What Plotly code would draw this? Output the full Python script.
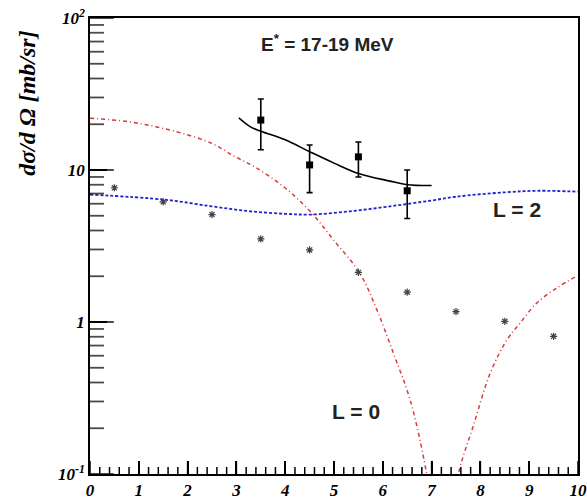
import plotly.graph_objects as go

# Measured cross sections (black squares) with asymmetric errors
exp_x = [3.5, 4.5, 5.5, 6.5]
exp_y = [21.3, 10.8, 12.2, 7.3]
exp_err_hi = [8.0, 3.8, 3.1, 2.7]
exp_err_lo = [7.7, 3.7, 3.2, 2.5]

# Fit to the measured points (solid line)
fit_x = [3.05, 3.28, 3.5, 4.0, 4.5, 5.0, 5.5, 6.15, 6.5, 7.0]
fit_y = [22.0, 19.3, 18.0, 15.8, 13.2, 11.1, 9.5, 8.45, 8.0, 7.9]

# L = 0 angular distribution (red dash-dot)
l0_x = [0.0, 0.78, 1.33, 1.87, 2.49, 2.96, 3.37, 3.96, 4.51, 4.99, 5.53, 5.88, 6.22,
        6.56, 6.86, 7.0, 7.2, 7.4, 7.55, 7.86, 8.2, 8.54, 8.81, 9.15, 9.56, 10.0]
l0_y = [21.9, 20.8, 19.3, 17.5, 15.0, 12.3, 10.5, 7.8, 5.35, 3.47, 2.09, 1.2, 0.62,
        0.307, 0.117, 0.06, 0.015, 0.045, 0.1, 0.21, 0.46, 0.76, 0.98, 1.33, 1.67, 2.03]

# L = 2 angular distribution (blue dotted)
l2_x = [0.0, 1.53, 2.49, 3.28, 4.0, 4.51, 5.33, 6.15, 7.0, 7.5, 8.5, 9.2, 10.0]
l2_y = [6.89, 6.38, 5.77, 5.35, 5.15, 5.09, 5.35, 5.77, 6.3, 6.67, 7.13, 7.3, 7.2]

# Second data set (asterisks)
star_x = [0.5, 1.5, 2.5, 3.5, 4.5, 5.5, 6.5, 7.5, 8.5, 9.5]
star_y = [7.64, 6.17, 5.09, 3.52, 2.98, 2.12, 1.57, 1.17, 1.01, 0.805]

x_minor_step = 0.2
y_decades = [-1, 0, 1, 2]
y_tickvals = [0.1, 1, 10, 100]
y_ticktext = ["10<sup>-1</sup>", "1", "10", "10<sup>2</sup>"]

X_RANGE = [0, 10]
Y_LOG_RANGE = [-1, 2]
PLOT_W = 488
PLOT_H = 456

fig = go.Figure()

fig.add_trace(go.Scatter(
    x=l0_x, y=l0_y, mode="lines",
    line=dict(color="#d83a3a", width=1.5, dash="4px,3px,1px,3px", shape="spline", smoothing=1.0),
    showlegend=False, hoverinfo="skip"))

fig.add_trace(go.Scatter(
    x=l2_x, y=l2_y, mode="lines",
    line=dict(color="#2222cc", width=1.8, dash="3px,2px", shape="spline", smoothing=1.0),
    showlegend=False, hoverinfo="skip"))

fig.add_trace(go.Scatter(
    x=fit_x, y=fit_y, mode="lines",
    line=dict(color="black", width=1.6, shape="spline", smoothing=1.0),
    showlegend=False, hoverinfo="skip"))

fig.add_trace(go.Scatter(
    x=exp_x, y=exp_y, mode="markers",
    marker=dict(symbol="square", size=7, color="black"),
    error_y=dict(type="data", symmetric=False, array=exp_err_hi, arrayminus=exp_err_lo,
                 color="black", thickness=1.6, width=3),
    showlegend=False))

fig.add_trace(go.Scatter(
    x=star_x, y=star_y, mode="markers",
    marker=dict(symbol="asterisk-open", size=6, color="#444444", line=dict(width=1.2, color="#444444")),
    showlegend=False))

# Inward tick marks along the bottom axis (ROOT style)
dec_per_px = (Y_LOG_RANGE[1] - Y_LOG_RANGE[0]) / PLOT_H
y_base = 10 ** Y_LOG_RANGE[0]
xt_x, xt_y = [], []
n_minor = int(round((X_RANGE[1] - X_RANGE[0]) / x_minor_step))
for i in range(n_minor + 1):
    xv = X_RANGE[0] + i * x_minor_step
    is_major = abs(xv - round(xv)) < 1e-9
    length = 13 if is_major else 7
    xt_x += [xv, xv, None]
    xt_y += [y_base, y_base * 10 ** (length * dec_per_px), None]
fig.add_trace(go.Scatter(
    x=xt_x, y=xt_y, mode="lines", line=dict(color="black", width=1.5, simplify=False),
    showlegend=False, hoverinfo="skip", cliponaxis=False))

# Inward tick marks along the left axis: horizontal bar markers centred on the
# axis line, the outer half clipped away by the plot area
yt_vals, yt_sizes = [], []
for d in y_decades:
    for k in range(1, 10):
        if d == Y_LOG_RANGE[1] and k > 1:
            break
        yt_vals.append(k * 10 ** d)
        yt_sizes.append(34 if k == 1 else 20)
fig.add_trace(go.Scatter(
    x=[X_RANGE[0]] * len(yt_vals), y=yt_vals, mode="markers",
    marker=dict(symbol="line-ew", size=yt_sizes, color="black",
                line=dict(width=1.8, color="black")),
    showlegend=False, hoverinfo="skip", cliponaxis=True))

tick_font = dict(family="Liberation Serif", size=17, color="black", weight="bold", style="italic")

fig.update_xaxes(
    range=X_RANGE, dtick=1, tick0=0,
    ticks="inside", ticklen=13, tickwidth=1.5, tickcolor="#000000",
    showline=True, linecolor="black", linewidth=1.5, mirror=True,
    showgrid=False, zeroline=False, tickfont=tick_font, automargin=False)

fig.update_yaxes(
    type="log", range=Y_LOG_RANGE,
    tickmode="array", tickvals=y_tickvals, ticktext=y_ticktext,
    ticks="inside", ticklen=17, tickwidth=1.5, tickcolor="#000000",
    showline=True, linecolor="black", linewidth=1.5, mirror=True,
    showgrid=False, zeroline=False, tickfont=tick_font, automargin=False)

fig.add_annotation(
    xref="x", yref="paper", x=4.86, y=0.945, xanchor="center", yanchor="middle",
    text="E<sup>*</sup> = 17-19 MeV", showarrow=False,
    font=dict(family="Liberation Sans", size=19, color="#222222", weight="bold"))
fig.add_annotation(
    xref="x", yref="paper", x=8.75, y=0.58, xanchor="center", yanchor="middle",
    text="L = 2", showarrow=False,
    font=dict(family="Liberation Sans", size=21, color="#222222", weight="bold"))
fig.add_annotation(
    xref="x", yref="paper", x=5.45, y=0.138, xanchor="center", yanchor="middle",
    text="L = 0", showarrow=False,
    font=dict(family="Liberation Sans", size=21, color="#222222", weight="bold"))
fig.add_annotation(
    xref="paper", yref="paper", x=-0.129, y=0.814, xanchor="center", yanchor="middle",
    text="dσ/d Ω [mb/sr]", textangle=-90, showarrow=False,
    font=dict(family="Liberation Serif", size=24, color="black", weight="bold", style="italic"))

fig.update_layout(
    width=587, height=500,
    margin=dict(l=90, r=9, t=18, b=26),
    paper_bgcolor="white", plot_bgcolor="white",
    showlegend=False)

fig.write_html("out.html")
